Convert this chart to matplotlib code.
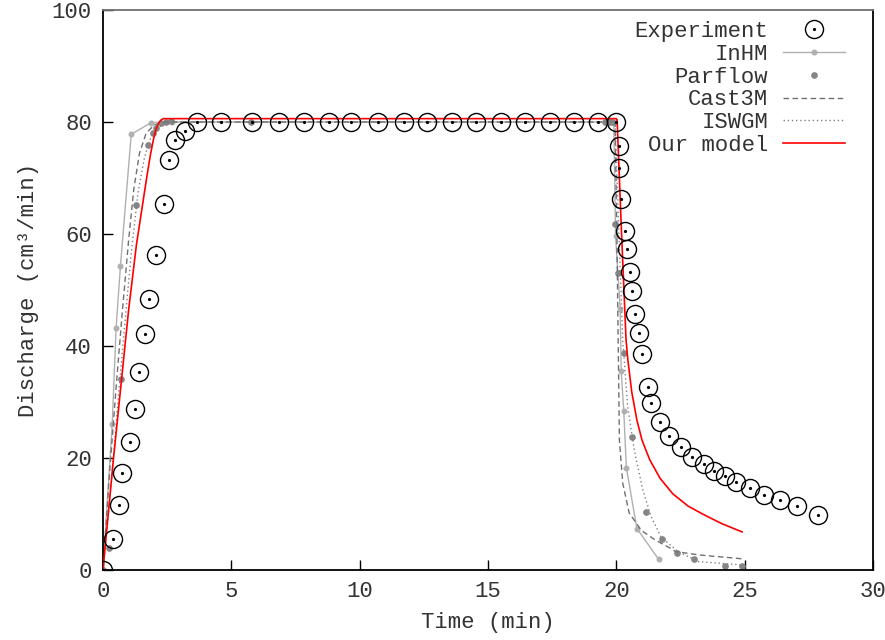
import matplotlib
matplotlib.use('Agg')
import matplotlib.pyplot as plt
from matplotlib.legend_handler import HandlerTuple

plt.rcParams['font.family'] = ['Liberation Mono', 'DejaVu Sans Mono']

# experiment
exp_t = [0, 0.38, 0.63, 0.75, 1.04, 1.23, 1.42, 1.63, 1.81, 2.06, 2.36, 2.56, 2.82, 3.21, 3.67,
         4.58, 5.79, 6.84, 7.85, 8.82, 9.68, 10.73, 11.71, 12.64, 13.61, 14.55, 15.52, 16.46,
         17.43, 18.37, 19.3, 19.97,
         20.09, 20.12, 20.2, 20.34, 20.41, 20.55, 20.6, 20.74, 20.87, 20.99, 21.22, 21.37, 21.71,
         22.07, 22.5, 22.93, 23.4, 23.82, 24.25, 24.67, 25.19, 25.74, 26.39, 27.02, 27.87]
exp_q = [0, 5.5, 11.6, 17.3, 22.9, 28.8, 35.4, 42.1, 48.4, 56.3, 65.3, 73.3, 76.8, 78.4, 80,
         80, 80, 80, 80, 80, 80, 80, 80, 80, 80, 80, 80, 80,
         80, 80, 80, 80,
         75.7, 71.8, 66.3, 60.6, 57.4, 53.2, 49.8, 45.8, 42.4, 38.5, 32.7, 29.8, 26.4,
         24.0, 22.0, 20.2, 18.9, 17.7, 16.7, 15.8, 14.7, 13.4, 12.5, 11.4, 9.8]

inhm_t = [0, 0.36, 0.51, 0.68, 1.1, 1.88, 2.7, 19.9, 19.97, 20.15, 20.19, 20.29, 20.39, 20.8, 21.65]
inhm_q = [0, 26.1, 43.2, 54.3, 77.8, 79.9, 80, 80, 59.6, 46.6, 35.5, 28.4, 18.3, 7.4, 1.9]

parflow_t = [0, 0.23, 0.71, 1.29, 1.77, 1.94, 2.07, 2.27, 2.46, 2.66, 5.75, 19.55, 19.7, 19.85,
             19.93, 20.05, 20.29, 20.6, 21.17, 21.78, 22.37, 23.04, 24.22, 24.9]
parflow_q = [0, 3.9, 34.1, 65.2, 75.9, 78, 79, 79.8, 80, 80.1, 80, 80, 80, 80,
             61.7, 53, 38.7, 23.7, 10.4, 5.5, 3.1, 1.9, 0.77, 0.66]

cast_t = [0, 0.25, 0.5, 0.75, 1.0, 1.2, 1.42, 1.68, 2.0, 2.46, 3.0, 19.95, 20.02, 20.08,
          20.12, 20.25, 20.5, 20.97, 21.5, 22.1, 22.3, 23.2, 24.9]
cast_q = [0, 17, 32, 46, 59, 68, 74.4, 78, 79.5, 80, 80, 80, 60, 38,
          23.2, 15.5, 10.2, 7.1, 5.4, 3.9, 3.3, 2.7, 2.0]

iswgm_t = [0, 0.35, 0.6, 0.85, 1.1, 1.36, 1.62, 1.88, 2.2, 2.6, 3.0, 19.95, 20.1, 20.25,
           20.44, 20.7, 21.03, 21.36, 21.74, 22.4, 23.2, 24.9]
iswgm_q = [0, 17, 31, 44, 56.5, 67.3, 73.8, 77.4, 79.2, 79.9, 80, 80, 60, 41,
           29.2, 21.4, 14.3, 9.5, 5.9, 3.3, 1.5, 0.9]

model_t = [0, 0.4, 0.7, 1.0, 1.3, 1.5, 1.7, 1.85, 1.97, 2.08, 2.18, 2.27, 2.35, 20.0, 20.03,
           20.2, 20.38, 20.45, 20.6, 20.8, 21.0, 21.3, 21.7, 22.2, 22.8, 23.4, 24.1, 24.9]
model_q = [0, 19.5, 33, 46.5, 58, 64, 70, 74.2, 77.0, 78.9, 79.9, 80.4, 80.6, 80.6, 80.4,
           60.5, 41, 37.5, 31.8, 26.8, 23.2, 19.7, 16.4, 13.6, 11.4, 9.9, 8.3, 6.8]

fs = 16
fig = plt.figure(figsize=(8.85, 6.4), dpi=100)
ax = fig.add_axes([103/885, 70/640, 770/885, 560/640])

h_inhm, = ax.plot(inhm_t, inhm_q, '-', color='#b0b0b0', lw=1.0, marker='o', ms=3.3,
                  label='InHM', zorder=2)
h_par, = ax.plot(parflow_t, parflow_q, 'o', color='#858585', ms=3.8, label='Parflow', zorder=2)
h_cast, = ax.plot(cast_t, cast_q, color='#707070', lw=1.0, ls=(0, (4, 2.5)), label='Cast3M', zorder=2)
h_isw, = ax.plot(iswgm_t, iswgm_q, color='#808080', lw=1.0, ls=(0, (1, 2)), label='ISWGM', zorder=2)
h_mod, = ax.plot(model_t, model_q, color='#ff0000', lw=1.2, label='Our model', zorder=3)
h_exp, = ax.plot(exp_t, exp_q, 'o', mfc='none', mec='black', ms=13, mew=1.0, zorder=4)
h_dot, = ax.plot(exp_t, exp_q, 'o', color='black', ms=1.3, zorder=4)

ax.set_xlim(0, 30)
ax.set_ylim(0, 100)
ax.set_xticks(range(0, 31, 5))
ax.set_yticks(range(0, 101, 20))
ax.tick_params(direction='in', length=7, width=1, labelsize=fs, colors='black',
               labelcolor='#333333', pad=8, top=False, right=False)
for s in ['left', 'bottom', 'right']:
    ax.spines[s].set_color('black')
    ax.spines[s].set_linewidth(1.3)
ax.spines['top'].set_color('#707070')
ax.spines['top'].set_linewidth(1.3)

ax.set_xlabel('Time (min)', fontsize=fs, color='#333333', labelpad=7)
ax.set_ylabel('Discharge (cm³/min)', fontsize=fs, color='#333333', labelpad=9)

leg = ax.legend([(h_exp, h_dot), h_inhm, h_par, h_cast, h_isw, h_mod],
                ['Experiment', 'InHM', 'Parflow', 'Cast3M', 'ISWGM', 'Our model'],
                handler_map={tuple: HandlerTuple(ndivide=1)},
                loc='upper right', bbox_to_anchor=(845/885, 619/640),
                bbox_transform=fig.transFigure, frameon=False, markerfirst=False,
                numpoints=1, handlelength=2.8, handletextpad=0.65, labelspacing=0.08,
                borderpad=0, borderaxespad=0, fontsize=fs)
for t in leg.get_texts():
    t.set_color('#333333')

plt.savefig('out.png', dpi=100)
